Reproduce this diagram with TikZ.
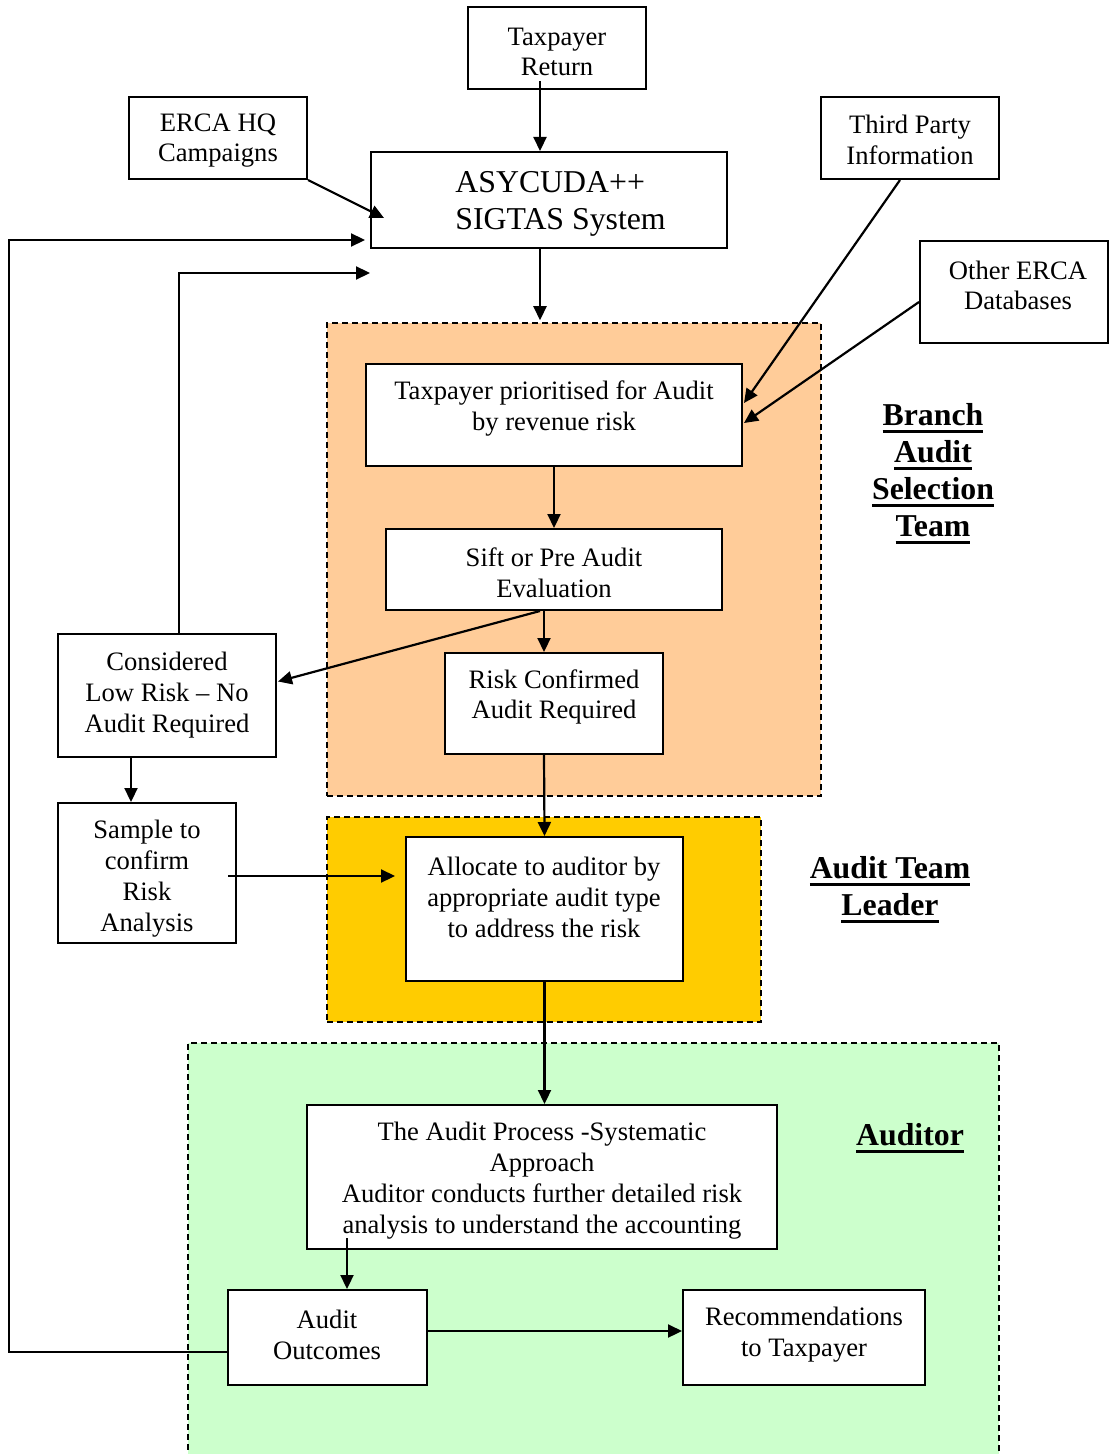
\documentclass[tikz,border=0pt]{standalone}
\usepackage{fontspec}
\setmainfont{Liberation Serif}
\usetikzlibrary{arrows.meta,calc}
\newcommand\myul[1]{\setbox0\hbox{#1}\rlap{\rule[-3.6pt]{\wd0}{1.5pt}}\box0}
\definecolor{peach}{RGB}{255,204,153}
\definecolor{gold}{RGB}{255,204,0}
\definecolor{mint}{RGB}{204,255,204}
\tikzset{
  box/.style={draw=black,line width=1pt,fill=white,inner sep=0pt,rectangle},
  region/.style={draw=black,line width=0.75pt,dash pattern=on 3pt off 2pt,inner sep=0pt,rectangle},
  txt/.style={inner sep=0pt,align=center,font=\fontsize{13.3}{15.4}\selectfont},
  bigtxt/.style={inner sep=0pt,align=left,font=\fontsize{15.9}{18.5}\selectfont},
  lbl/.style={inner sep=0pt,align=center,font=\fontsize{15.9}{18.5}\selectfont\bfseries},
  arr/.style={line width=1.1pt,-{Triangle[length=7pt,width=6.5pt]}}
}
\begin{document}
\begin{tikzpicture}[x=0.5pt,y=-0.5pt]
\useasboundingbox (0,0) rectangle (1109,1454);
% regions
\node[region,fill=peach,minimum width=247pt,minimum height=236.5pt] (bsel) at (574,559.5) {};
\node[region,fill=gold,minimum width=217pt,minimum height=102.5pt] (tl) at (544,919.5) {};
\begin{scope}
\clip (0,0) rectangle (1109,1454);
\node[region,fill=mint,minimum width=405.5pt,minimum height=213.5pt] (aud) at (593.5,1256.5) {};
\end{scope}
% boxes
\node[box,minimum width=89pt,minimum height=41pt] (tr) at (557,48) {};
\node[box,minimum width=89pt,minimum height=41pt] (erca) at (218,138) {};
\node[box,minimum width=178pt,minimum height=48pt] (asy) at (549,200) {};
\node[box,minimum width=89pt,minimum height=41pt] (third) at (910,138) {};
\node[box,minimum width=94pt,minimum height=51pt] (other) at (1014,292) {};
\node[box,minimum width=188pt,minimum height=51pt] (prio) at (554,415) {};
\node[box,minimum width=168pt,minimum height=40.5pt] (sift) at (554,569.5) {};
\node[box,minimum width=109pt,minimum height=50.5pt] (risk) at (554,703.5) {};
\node[box,minimum width=109pt,minimum height=61.5pt] (low) at (167,695.5) {};
\node[box,minimum width=89pt,minimum height=70pt] (sample) at (147,873) {};
\node[box,minimum width=138.5pt,minimum height=72pt] (alloc) at (544.5,909) {};
\node[box,minimum width=235pt,minimum height=72pt] (proc) at (542,1177) {};
\node[box,minimum width=99.5pt,minimum height=47.5pt] (outc) at (327.5,1337.5) {};
\node[box,minimum width=121pt,minimum height=47.5pt] (rec) at (804,1337.5) {};
% texts
\node[txt] (trt) at (557,52) {Taxpayer\\Return};
\node[txt] (ercat) at (218,140.5) {ERCA HQ\\Campaigns};
\node[bigtxt,anchor=west] (asyt) at (455,203.5) {ASYCUDA++\\SIGTAS System};
\node[txt] (thirdt) at (910,140) {Third Party\\Information};
\node[txt] (othert) at (1018,285.5) {Other ERCA\\Databases};
\node[txt] (priot) at (554,408.5) {Taxpayer prioritised for Audit\\by revenue risk};
\node[txt] (siftt) at (554,573) {Sift or Pre Audit\\Evaluation};
\node[txt] (riskt) at (554,697) {Risk Confirmed\\Audit Required};
\node[txt] (lowt) at (167,695) {Considered\\Low Risk -- No\\Audit Required};
\node[txt] (samplet) at (147,878.5) {Sample to\\confirm\\Risk\\Analysis};
\node[txt] (alloct) at (544,897.5) {Allocate to auditor by\\appropriate audit type\\to address the risk};
\node[txt] (proct) at (542,1180.5) {The Audit Process -Systematic\\Approach\\Auditor conducts further detailed risk\\analysis to understand the accounting};
\node[txt] (outct) at (327,1335) {Audit\\Outcomes};
\node[txt] (rect) at (804,1335) {Recommendations\\to Taxpayer};
% labels
\node[lbl] (bsell) at (933,473.5) {\myul{Branch}\\\myul{Audit}\\\myul{Selection}\\\myul{Team}};
\node[lbl] (tll) at (890,889.5) {\myul{Audit Team}\\\myul{Leader}};
\node[lbl] (audl) at (910,1138.5) {\myul{Auditor}};
% connectors
\draw[arr] ($(tr.south)+(-17,-9)$) -- ($(asy.north)+(-9,0)$);
\draw[arr] (erca.south east) -- ($(asy.west)+(14,18)$);
\draw[arr] ($(outc.west)+(0,14.5)$) -- ++(-218,0) |- ($(asy.west)+(-5,40)$);
\draw[arr] ($(low.north)+(12,0)$) |- ($(asy.south west)+(0,24)$);
\draw[arr] ($(asy.south)+(-9,0)$) -- ($(bsel.north)+(-34,-2)$);
\draw[arr] ($(third.south)+(-10,0)$) -- ($(prio.east)+(1,-12)$);
\draw[arr] ($(other.west)+(0,10)$) -- ($(prio.east)+(1,8)$);
\draw[arr] (prio.south) -- (sift.north);
\draw[arr] ($(sift.south)+(-10,0)$) -- ($(risk.north)+(-10,0)$);
\draw[arr] ($(sift.south)+(-14,0)$) -- ($(low.east)+(1,-14)$);
\draw[arr] ($(low.south)+(-36,0)$) -- ($(sample.north)+(-16,0)$);
\draw[arr] ($(sample.east)+(-9,3)$) -- ($(alloc.west)+(-10,-33)$);
\draw[arr] ($(risk.south)+(-10,0)$) -- (alloc.north);
\draw[arr] (alloc.south) -- (alloc.south |- proc.north);
\draw[arr] ($(proc.south)+(-195,-12)$) -- ($(outc.north)+(19.5,0)$);
\draw[arr] ($(outc.east)+(0,-6.5)$) -- ($(rec.west)+(0,-6.5)$);
\end{tikzpicture}
\end{document}
